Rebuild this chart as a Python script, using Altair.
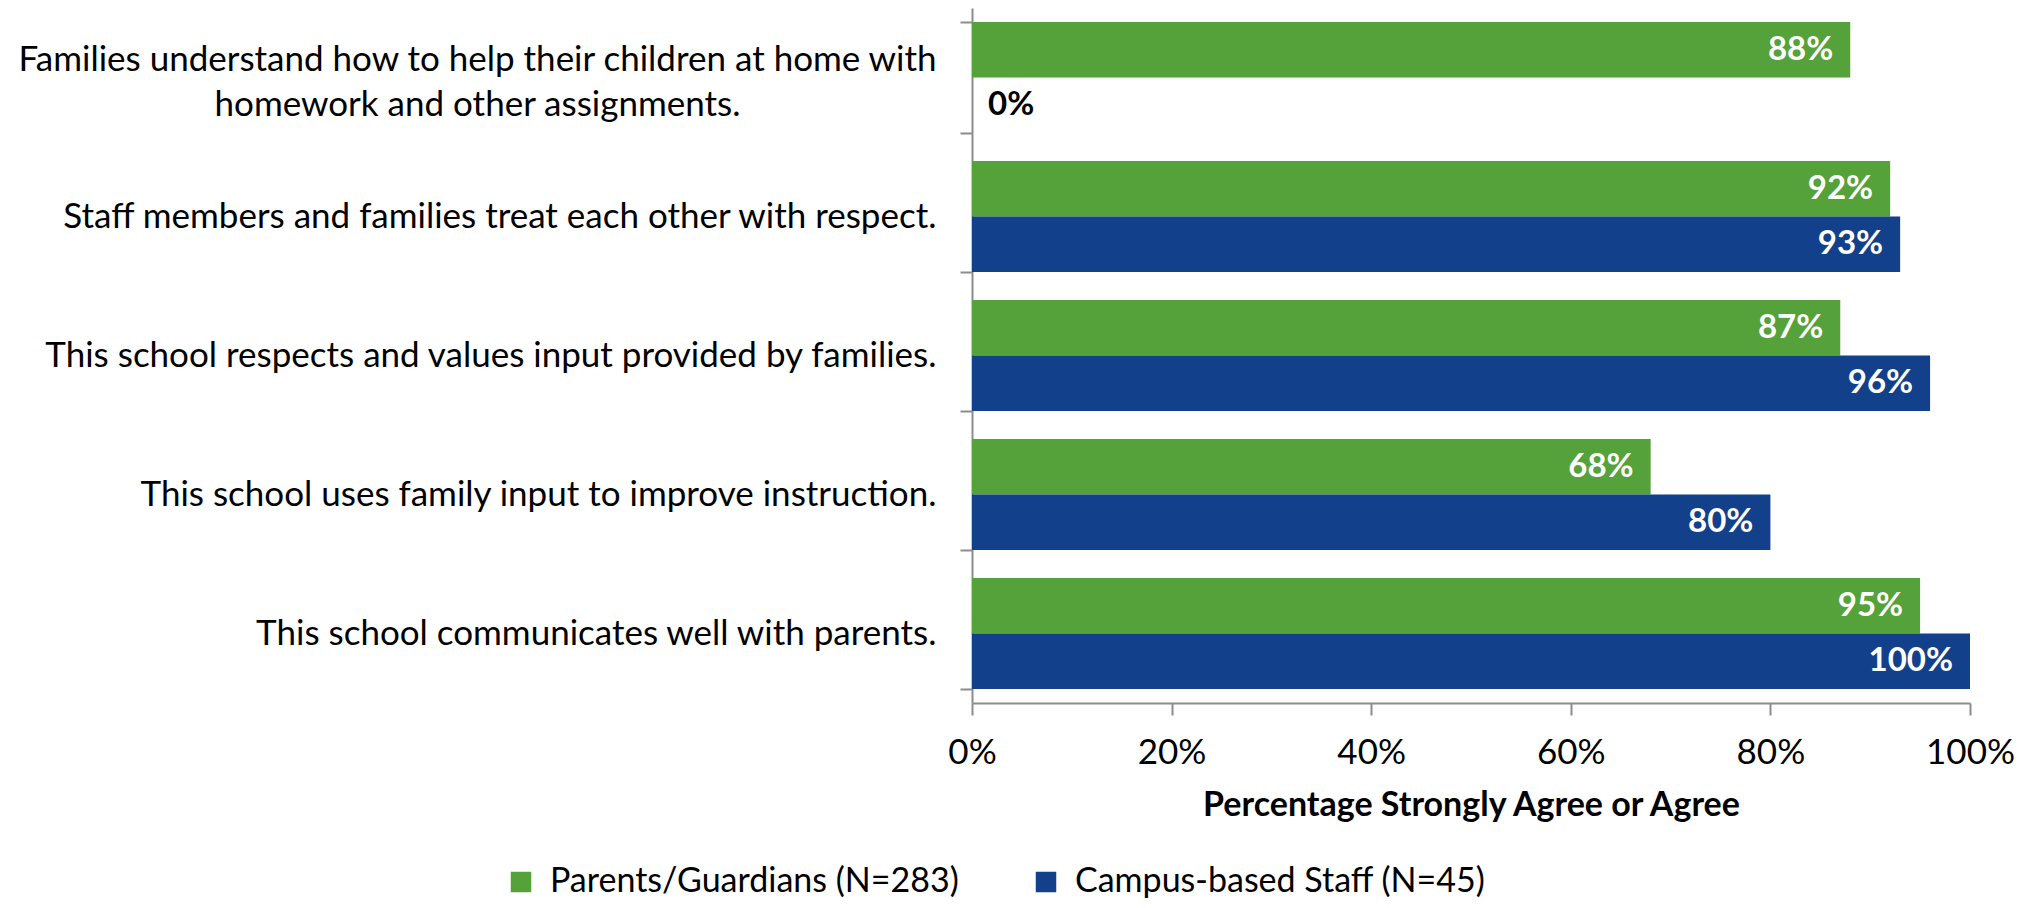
import json
import altair as alt
import pandas as pd

categories = [
    "Families understand how to help their children at home with homework and other assignments.",
    "Staff members and families treat each other with respect.",
    "This school respects and values input provided by families.",
    "This school uses family input to improve instruction.",
    "This school communicates well with parents.",
]
first_label_lines = [
    "Families understand how to help their children at home with",
    "homework and other assignments.",
]
series = ["Parents/Guardians (N=283)", "Campus-based Staff (N=45)"]
parents = [0.88, 0.92, 0.87, 0.68, 0.95]
staff = [0.00, 0.93, 0.96, 0.80, 1.00]
colors = ["#55A13A", "#13408A"]
x_ticks = [0, 0.2, 0.4, 0.6, 0.8, 1.0]
x_title = "Percentage Strongly Agree or Agree"

rows = []
for c, p, s in zip(categories, parents, staff):
    rows.append({"q": c, "grp": series[0], "v": p})
    rows.append({"q": c, "grp": series[1], "v": s})
df = pd.DataFrame(rows)

FONT = "Lato"
AXIS_GRAY = "#8c8c8c"
first_test = "datum.value == " + json.dumps(categories[0])
label_expr = first_test + " ? " + json.dumps(first_label_lines) + " : datum.label"

y_enc = alt.Y(
    "q:N",
    sort=categories,
    title=None,
    scale=alt.Scale(paddingInner=0.2, paddingOuter=0.1),
    axis=alt.Axis(
        tickBand="extent",
        tickSize=12,
        tickColor=AXIS_GRAY,
        tickWidth=2,
        domainColor=AXIS_GRAY,
        domainWidth=2,
        labelFont=FONT,
        labelFontSize=35,
        labelColor="black",
        labelLimit=1200,
        labelLineHeight=45,
        labelBaseline="middle",
        labelExpr=label_expr,
        labelAlign={"condition": {"test": first_test, "value": "center"}, "value": "right"},
        labelPadding={"condition": {"test": first_test, "value": 483}, "value": 24},
        labelOffset={"condition": {"test": first_test, "value": -18}, "value": 0},
    ),
)
x_enc = alt.X(
    "v:Q",
    scale=alt.Scale(domain=[0, 1]),
    axis=alt.Axis(
        values=x_ticks,
        format=".0%",
        grid=False,
        tickSize=12,
        tickColor=AXIS_GRAY,
        tickWidth=2,
        domainColor=AXIS_GRAY,
        domainWidth=2,
        labelFont=FONT,
        labelFontSize=35,
        labelColor="black",
        labelPadding=20,
        labelFlush=False,
        title=x_title,
        titleFont=FONT,
        titleFontSize=34,
        titleFontWeight="bold",
        titleColor="black",
        titlePadding=18,
    ),
)
yoff = alt.YOffset("grp:N", sort=series, scale=alt.Scale(paddingInner=0, paddingOuter=0))

base = alt.Chart(df)

bars = base.mark_bar().encode(
    x=x_enc,
    y=y_enc,
    yOffset=yoff,
    color=alt.Color(
        "grp:N",
        sort=series,
        scale=alt.Scale(domain=series, range=colors),
        legend=alt.Legend(
            orient="none",
            legendX=-468,
            legendY=857,
            direction="horizontal",
            title=None,
            symbolType="square",
            symbolSize=420,
            symbolStrokeWidth=0,
            labelFont=FONT,
            labelFontSize=34,
            labelColor="black",
            labelOffset=12,
            columnPadding=70,
            padding=0,
            labelLimit=1000,
        ),
    ),
)

labels_in = base.mark_text(
    align="right", baseline="middle", dx=-17, color="white",
    font=FONT, fontSize=33, fontWeight="bold",
).transform_filter("datum.v > 0").encode(
    x="v:Q", y=alt.Y("q:N", sort=categories), yOffset=yoff,
    text=alt.Text("v:Q", format=".0%"),
)
labels_zero = base.mark_text(
    align="left", baseline="middle", dx=16, color="black",
    font=FONT, fontSize=33, fontWeight="bold",
).transform_filter("datum.v == 0").encode(
    x="v:Q", y=alt.Y("q:N", sort=categories), yOffset=yoff,
    text=alt.Text("v:Q", format=".0%"),
)

chart = (
    alt.layer(bars, labels_in, labels_zero)
    .properties(
        width=998,
        height=695,
        autosize=alt.AutoSizeParams(type="none"),
        padding={"left": 964, "top": 0, "right": 44, "bottom": 197},
        background="white",
    )
    .configure_view(stroke=None)
)

chart.save("out.html", embed_options={"renderer": "svg", "actions": False})
